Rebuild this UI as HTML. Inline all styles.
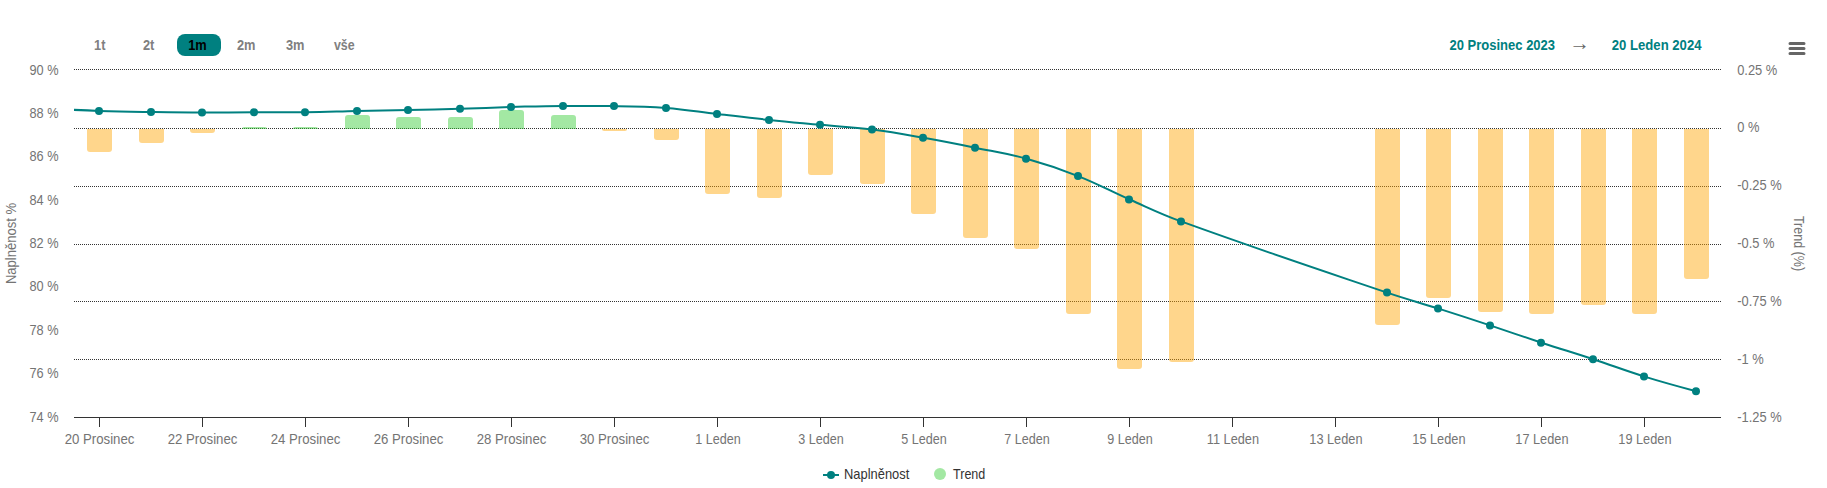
<!DOCTYPE html>
<html lang="cs"><head><meta charset="utf-8"><title>Naplněnost</title>
<style>html,body{margin:0;padding:0;background:#fff}body{width:1827px;height:488px;overflow:hidden}svg{display:block}text{font-family:"Liberation Sans", sans-serif;font-size:13.8px}</style>
</head><body>
<svg width="1827" height="488" viewBox="0 0 1827 488">
<rect width="1827" height="488" fill="#ffffff"/>
<defs><clipPath id="plot"><rect x="74" y="60" width="1647" height="367"/></clipPath></defs>
<g stroke="#333333" stroke-width="1" stroke-dasharray="1,1" fill="none">
<path d="M 74 69.5 L 1721 69.5"/>
<path d="M 74 128.5 L 1721 128.5"/>
<path d="M 74 186.5 L 1721 186.5"/>
<path d="M 74 244.5 L 1721 244.5"/>
<path d="M 74 301.5 L 1721 301.5"/>
<path d="M 74 359.5 L 1721 359.5"/>
</g>
<g clip-path="url(#plot)">
<path d="M 87 129 H 112 V 149 Q 112 152 109 152 H 90 Q 87 152 87 149 Z" fill="rgba(255,165,0,0.45)"/>
<path d="M 139 129 H 164 V 140 Q 164 143 161 143 H 142 Q 139 143 139 140 Z" fill="rgba(255,165,0,0.45)"/>
<path d="M 190 129 H 215 V 130 Q 215 133 212 133 H 193 Q 190 133 190 130 Z" fill="rgba(255,165,0,0.45)"/>
<path d="M 242 129 H 267 V 129 Q 267 127 265 127 H 244 Q 242 127 242 129 Z" fill="rgba(50,205,50,0.45)"/>
<path d="M 293 129 H 318 V 129 Q 318 127 316 127 H 295 Q 293 127 293 129 Z" fill="rgba(50,205,50,0.45)"/>
<path d="M 345 129 H 370 V 118 Q 370 115 367 115 H 348 Q 345 115 345 118 Z" fill="rgba(50,205,50,0.45)"/>
<path d="M 396 129 H 421 V 120 Q 421 117 418 117 H 399 Q 396 117 396 120 Z" fill="rgba(50,205,50,0.45)"/>
<path d="M 448 129 H 473 V 120 Q 473 117 470 117 H 451 Q 448 117 448 120 Z" fill="rgba(50,205,50,0.45)"/>
<path d="M 499 129 H 524 V 113 Q 524 110 521 110 H 502 Q 499 110 499 113 Z" fill="rgba(50,205,50,0.45)"/>
<path d="M 551 129 H 576 V 118 Q 576 115 573 115 H 554 Q 551 115 551 118 Z" fill="rgba(50,205,50,0.45)"/>
<path d="M 602 129 H 627 V 129 Q 627 131 625 131 H 604 Q 602 131 602 129 Z" fill="rgba(255,165,0,0.45)"/>
<path d="M 654 129 H 679 V 137 Q 679 140 676 140 H 657 Q 654 140 654 137 Z" fill="rgba(255,165,0,0.45)"/>
<path d="M 705 129 H 730 V 191 Q 730 194 727 194 H 708 Q 705 194 705 191 Z" fill="rgba(255,165,0,0.45)"/>
<path d="M 757 129 H 782 V 195 Q 782 198 779 198 H 760 Q 757 198 757 195 Z" fill="rgba(255,165,0,0.45)"/>
<path d="M 808 129 H 833 V 172 Q 833 175 830 175 H 811 Q 808 175 808 172 Z" fill="rgba(255,165,0,0.45)"/>
<path d="M 860 129 H 885 V 181 Q 885 184 882 184 H 863 Q 860 184 860 181 Z" fill="rgba(255,165,0,0.45)"/>
<path d="M 911 129 H 936 V 211 Q 936 214 933 214 H 914 Q 911 214 911 211 Z" fill="rgba(255,165,0,0.45)"/>
<path d="M 963 129 H 988 V 235 Q 988 238 985 238 H 966 Q 963 238 963 235 Z" fill="rgba(255,165,0,0.45)"/>
<path d="M 1014 129 H 1039 V 246 Q 1039 249 1036 249 H 1017 Q 1014 249 1014 246 Z" fill="rgba(255,165,0,0.45)"/>
<path d="M 1066 129 H 1091 V 311 Q 1091 314 1088 314 H 1069 Q 1066 314 1066 311 Z" fill="rgba(255,165,0,0.45)"/>
<path d="M 1117 129 H 1142 V 366 Q 1142 369 1139 369 H 1120 Q 1117 369 1117 366 Z" fill="rgba(255,165,0,0.45)"/>
<path d="M 1169 129 H 1194 V 359 Q 1194 362 1191 362 H 1172 Q 1169 362 1169 359 Z" fill="rgba(255,165,0,0.45)"/>
<path d="M 1375 129 H 1400 V 322 Q 1400 325 1397 325 H 1378 Q 1375 325 1375 322 Z" fill="rgba(255,165,0,0.45)"/>
<path d="M 1426 129 H 1451 V 295 Q 1451 298 1448 298 H 1429 Q 1426 298 1426 295 Z" fill="rgba(255,165,0,0.45)"/>
<path d="M 1478 129 H 1503 V 309 Q 1503 312 1500 312 H 1481 Q 1478 312 1478 309 Z" fill="rgba(255,165,0,0.45)"/>
<path d="M 1529 129 H 1554 V 311 Q 1554 314 1551 314 H 1532 Q 1529 314 1529 311 Z" fill="rgba(255,165,0,0.45)"/>
<path d="M 1581 129 H 1606 V 302 Q 1606 305 1603 305 H 1584 Q 1581 305 1581 302 Z" fill="rgba(255,165,0,0.45)"/>
<path d="M 1632 129 H 1657 V 311 Q 1657 314 1654 314 H 1635 Q 1632 314 1632 311 Z" fill="rgba(255,165,0,0.45)"/>
<path d="M 1684 129 H 1709 V 276 Q 1709 279 1706 279 H 1687 Q 1684 279 1684 276 Z" fill="rgba(255,165,0,0.45)"/>
</g>
<path d="M 74 417.5 L 1721 417.5" stroke="#333333" stroke-width="1" fill="none"/>
<g stroke="#333333" stroke-width="1" fill="none">
<path d="M 99.5 417 L 99.5 427"/>
<path d="M 202.5 417 L 202.5 427"/>
<path d="M 305.5 417 L 305.5 427"/>
<path d="M 408.5 417 L 408.5 427"/>
<path d="M 511.5 417 L 511.5 427"/>
<path d="M 614.5 417 L 614.5 427"/>
<path d="M 717.5 417 L 717.5 427"/>
<path d="M 820.5 417 L 820.5 427"/>
<path d="M 923.5 417 L 923.5 427"/>
<path d="M 1026.5 417 L 1026.5 427"/>
<path d="M 1129.5 417 L 1129.5 427"/>
<path d="M 1232.5 417 L 1232.5 427"/>
<path d="M 1335.5 417 L 1335.5 427"/>
<path d="M 1438.5 417 L 1438.5 427"/>
<path d="M 1541.5 417 L 1541.5 427"/>
<path d="M 1644.5 417 L 1644.5 427"/>
</g>
<g clip-path="url(#plot)">
<path d="M 48.10 108.60 C 48.10 108.60 79.00 110.22 99.60 110.90 C 120.20 111.58 130.50 111.68 151.10 112.00 C 171.70 112.32 182.00 112.50 202.60 112.50 C 223.20 112.50 233.50 112.36 254.10 112.30 C 274.70 112.24 285.00 112.30 305.60 112.20 C 326.20 112.10 336.50 111.36 357.10 110.90 C 377.70 110.44 388.00 110.32 408.60 109.90 C 429.20 109.48 439.50 109.38 460.10 108.80 C 480.70 108.22 491.00 107.58 511.60 107.00 C 532.20 106.42 542.50 105.90 563.10 105.90 C 583.70 105.90 594.00 105.90 614.60 106.10 C 635.20 106.30 645.50 106.32 666.10 107.90 C 686.70 109.48 697.00 111.60 717.60 114.00 C 738.20 116.40 748.50 117.74 769.10 119.90 C 789.70 122.06 800.00 122.86 820.60 124.80 C 841.20 126.74 851.50 127.00 872.10 129.60 C 892.70 132.20 903.00 134.18 923.60 137.80 C 944.20 141.42 954.50 143.50 975.10 147.70 C 995.70 151.90 1006.00 153.12 1026.60 158.80 C 1047.20 164.48 1057.50 167.96 1078.10 176.10 C 1098.70 184.24 1109.00 190.44 1129.60 199.50 C 1150.20 208.56 1160.50 213.95 1181.10 221.40 C 1263.50 251.19 1304.70 264.70 1387.10 292.60 C 1407.70 299.58 1418.00 302.04 1438.60 308.60 C 1459.20 315.16 1469.50 318.58 1490.10 325.40 C 1510.70 332.22 1521.00 335.94 1541.60 342.70 C 1562.20 349.46 1572.50 352.42 1593.10 359.20 C 1613.70 365.98 1624.00 370.20 1644.60 376.60 C 1665.20 383.00 1696.10 391.20 1696.10 391.20" fill="none" stroke="#008080" stroke-width="2" stroke-linejoin="round" stroke-linecap="round"/>
<circle cx="99" cy="110.9" r="4" fill="#008080"/>
<circle cx="151" cy="112.0" r="4" fill="#008080"/>
<circle cx="202" cy="112.5" r="4" fill="#008080"/>
<circle cx="254" cy="112.3" r="4" fill="#008080"/>
<circle cx="305" cy="112.2" r="4" fill="#008080"/>
<circle cx="357" cy="110.9" r="4" fill="#008080"/>
<circle cx="408" cy="109.9" r="4" fill="#008080"/>
<circle cx="460" cy="108.8" r="4" fill="#008080"/>
<circle cx="511" cy="107.0" r="4" fill="#008080"/>
<circle cx="563" cy="105.9" r="4" fill="#008080"/>
<circle cx="614" cy="106.1" r="4" fill="#008080"/>
<circle cx="666" cy="107.9" r="4" fill="#008080"/>
<circle cx="717" cy="114.0" r="4" fill="#008080"/>
<circle cx="769" cy="119.9" r="4" fill="#008080"/>
<circle cx="820" cy="124.8" r="4" fill="#008080"/>
<circle cx="872" cy="129.6" r="4" fill="#008080"/>
<circle cx="923" cy="137.8" r="4" fill="#008080"/>
<circle cx="975" cy="147.7" r="4" fill="#008080"/>
<circle cx="1026" cy="158.8" r="4" fill="#008080"/>
<circle cx="1078" cy="176.1" r="4" fill="#008080"/>
<circle cx="1129" cy="199.5" r="4" fill="#008080"/>
<circle cx="1181" cy="221.4" r="4" fill="#008080"/>
<circle cx="1387" cy="292.6" r="4" fill="#008080"/>
<circle cx="1438" cy="308.6" r="4" fill="#008080"/>
<circle cx="1490" cy="325.4" r="4" fill="#008080"/>
<circle cx="1541" cy="342.7" r="4" fill="#008080"/>
<circle cx="1593" cy="359.2" r="4" fill="#008080"/>
<circle cx="1644" cy="376.6" r="4" fill="#008080"/>
<circle cx="1696" cy="391.2" r="4" fill="#008080"/>
</g>
<text transform="translate(99.50 444.00) scale(0.9580 1)" text-anchor="middle" fill="#747474">20 Prosinec</text>
<text transform="translate(202.50 444.00) scale(0.9580 1)" text-anchor="middle" fill="#747474">22 Prosinec</text>
<text transform="translate(305.50 444.00) scale(0.9580 1)" text-anchor="middle" fill="#747474">24 Prosinec</text>
<text transform="translate(408.50 444.00) scale(0.9580 1)" text-anchor="middle" fill="#747474">26 Prosinec</text>
<text transform="translate(511.50 444.00) scale(0.9580 1)" text-anchor="middle" fill="#747474">28 Prosinec</text>
<text transform="translate(614.50 444.00) scale(0.9580 1)" text-anchor="middle" fill="#747474">30 Prosinec</text>
<text transform="translate(717.90 444.00) scale(0.9120 1)" text-anchor="middle" fill="#747474">1 Leden</text>
<text transform="translate(820.90 444.00) scale(0.9120 1)" text-anchor="middle" fill="#747474">3 Leden</text>
<text transform="translate(923.90 444.00) scale(0.9120 1)" text-anchor="middle" fill="#747474">5 Leden</text>
<text transform="translate(1026.90 444.00) scale(0.9120 1)" text-anchor="middle" fill="#747474">7 Leden</text>
<text transform="translate(1129.90 444.00) scale(0.9120 1)" text-anchor="middle" fill="#747474">9 Leden</text>
<text transform="translate(1232.90 444.00) scale(0.9250 1)" text-anchor="middle" fill="#747474">11 Leden</text>
<text transform="translate(1335.90 444.00) scale(0.9250 1)" text-anchor="middle" fill="#747474">13 Leden</text>
<text transform="translate(1438.90 444.00) scale(0.9250 1)" text-anchor="middle" fill="#747474">15 Leden</text>
<text transform="translate(1541.90 444.00) scale(0.9250 1)" text-anchor="middle" fill="#747474">17 Leden</text>
<text transform="translate(1644.90 444.00) scale(0.9250 1)" text-anchor="middle" fill="#747474">19 Leden</text>
<text transform="translate(58.50 74.50) scale(0.9250 1)" text-anchor="end" fill="#747474">90 %</text>
<text transform="translate(58.50 117.88) scale(0.9250 1)" text-anchor="end" fill="#747474">88 %</text>
<text transform="translate(58.50 161.25) scale(0.9250 1)" text-anchor="end" fill="#747474">86 %</text>
<text transform="translate(58.50 204.62) scale(0.9250 1)" text-anchor="end" fill="#747474">84 %</text>
<text transform="translate(58.50 248.00) scale(0.9250 1)" text-anchor="end" fill="#747474">82 %</text>
<text transform="translate(58.50 291.38) scale(0.9250 1)" text-anchor="end" fill="#747474">80 %</text>
<text transform="translate(58.50 334.75) scale(0.9250 1)" text-anchor="end" fill="#747474">78 %</text>
<text transform="translate(58.50 378.12) scale(0.9250 1)" text-anchor="end" fill="#747474">76 %</text>
<text transform="translate(58.50 421.50) scale(0.9250 1)" text-anchor="end" fill="#747474">74 %</text>
<text transform="translate(1737.20 74.50) scale(0.9350 1)" text-anchor="start" fill="#747474">0.25 %</text>
<text transform="translate(1737.20 132.33) scale(0.9350 1)" text-anchor="start" fill="#747474">0 %</text>
<text transform="translate(1737.20 190.17) scale(0.9350 1)" text-anchor="start" fill="#747474">-0.25 %</text>
<text transform="translate(1737.20 248.00) scale(0.9350 1)" text-anchor="start" fill="#747474">-0.5 %</text>
<text transform="translate(1737.20 305.83) scale(0.9350 1)" text-anchor="start" fill="#747474">-0.75 %</text>
<text transform="translate(1737.20 363.67) scale(0.9350 1)" text-anchor="start" fill="#747474">-1 %</text>
<text transform="translate(1737.20 421.50) scale(0.9350 1)" text-anchor="start" fill="#747474">-1.25 %</text>
<text transform="translate(15.50 243.50) rotate(270) scale(0.9450 1)" text-anchor="middle" fill="#747474">Naplněnost %</text>
<text transform="translate(1793.50 243.50) rotate(90) scale(0.9070 1)" text-anchor="middle" fill="#747474">Trend (%)</text>
<rect x="177" y="34" width="44" height="22" rx="8" ry="8" fill="#008080"/>
<text transform="translate(99.70 50.00) scale(0.9300 1)" text-anchor="middle" fill="#808080" font-weight="bold">1t</text>
<text transform="translate(148.60 50.00) scale(0.9300 1)" text-anchor="middle" fill="#808080" font-weight="bold">2t</text>
<text transform="translate(197.50 50.00) scale(0.9300 1)" text-anchor="middle" fill="#000000" font-weight="bold">1m</text>
<text transform="translate(246.20 50.00) scale(0.9300 1)" text-anchor="middle" fill="#808080" font-weight="bold">2m</text>
<text transform="translate(295.20 50.00) scale(0.9300 1)" text-anchor="middle" fill="#808080" font-weight="bold">3m</text>
<text transform="translate(344.30 50.00) scale(0.9000 1)" text-anchor="middle" fill="#808080" font-weight="bold">vše</text>
<text transform="translate(1449.50 50.00) scale(0.9430 1)" text-anchor="start" fill="#008080" font-weight="bold">20 Prosinec 2023</text>
<text transform="translate(1611.70 50.00) scale(0.9530 1)" text-anchor="start" fill="#008080" font-weight="bold">20 Leden 2024</text>
<text transform="translate(1579.6 50.3) scale(1.03 1)" text-anchor="middle" fill="#666666" style="font-size:20px">→</text>
<path d="M 1790 43.5 L 1804 43.5 M 1790 48.5 L 1804 48.5 M 1790 53.5 L 1804 53.5" stroke="#666666" stroke-width="3" stroke-linecap="round" fill="none"/>
<path d="M 823 475 L 839 475" stroke="#008080" stroke-width="2" fill="none"/>
<circle cx="831" cy="475" r="4" fill="#008080"/>
<text transform="translate(844.00 478.50) scale(0.9360 1)" text-anchor="start" fill="#333333">Naplněnost</text>
<circle cx="940" cy="474" r="6" fill="rgba(50,205,50,0.45)"/>
<text transform="translate(953.00 478.50) scale(0.9100 1)" text-anchor="start" fill="#333333">Trend</text>
</svg>
</body></html>
